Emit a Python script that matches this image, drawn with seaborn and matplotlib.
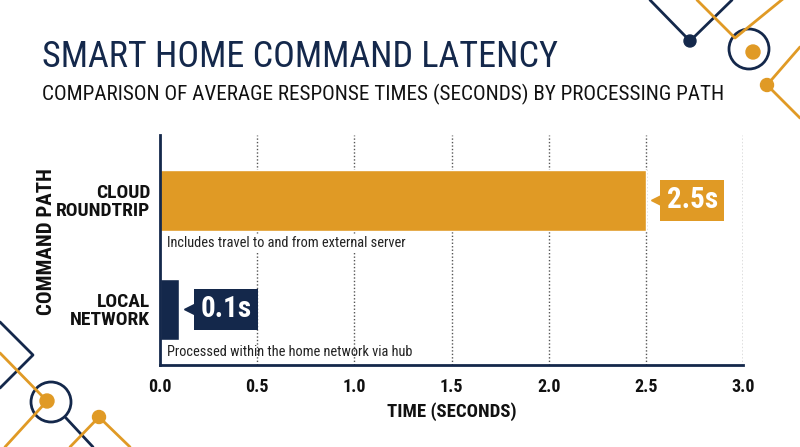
import matplotlib
matplotlib.use("Agg")
import matplotlib.pyplot as plt
import matplotlib.transforms as mtrans
from matplotlib.patches import Circle
import seaborn as sns
import pandas as pd

categories = ["CLOUD\nROUNDTRIP", "LOCAL\nNETWORK"]
latency = [2.5, 0.1]
value_labels = ["2.5s", "0.1s"]
notes = ["Includes travel to and from external server",
         "Processed within the home network via hub"]
xticks = [0.0, 0.5, 1.0, 1.5, 2.0, 2.5, 3.0]

ORANGE = "#E09A25"
NAVY = "#14284B"
FONT = ["Roboto Condensed", "DejaVu Sans"]

sns.set_style("white")
plt.rcParams["font.family"] = FONT

fig = plt.figure(figsize=(8, 4.47), dpi=100)
ax = fig.add_axes([160/800, 1-365/447, 583/800, 230/447])

df = pd.DataFrame({"path": categories, "time": latency})
sns.barplot(data=df, x="time", y="path", hue="path", orient="h",
            palette=[ORANGE, NAVY], width=0.56, legend=False, ax=ax,
            saturation=1, zorder=2)

ax.set_xlim(0, 3.0)
ax.set_ylim(1.51, -0.60)
ax.set_xticks(xticks)
ax.set_xticklabels([f"{t:.1f}" for t in xticks], fontsize=13, fontweight="bold", color="#111")
ax.set_yticks(range(len(categories)))
ax.set_yticklabels(categories, fontsize=14, fontweight="bold", color="#111", linespacing=1.0)
ax.tick_params(axis="both", length=0)
ax.tick_params(axis="y", pad=7)
ax.tick_params(axis="x", pad=9)
for t in xticks[1:]:
    ax.axvline(t, color="#555555", lw=1.0, ls=(0, (1, 1.5)), zorder=1)
for s in ["top", "right"]:
    ax.spines[s].set_visible(False)
for s in ["left", "bottom"]:
    ax.spines[s].set_color(NAVY)
    ax.spines[s].set_linewidth(2)
ax.set_xlabel("TIME (SECONDS)", fontsize=13.5, fontweight="bold", color="#111", labelpad=5)
ax.set_ylabel("COMMAND PATH", fontsize=15, fontweight="bold", color="#111")
ax.yaxis.set_label_coords(-0.178, 0.535)

colors = [ORANGE, NAVY]
for i, (v, lab, note) in enumerate(zip(latency, value_labels, notes)):
    ax.annotate(lab, xy=(v, i), xytext=(21*0.72, 0), textcoords="offset points",
                ha="left", va="center", fontsize=21, fontweight="bold", color="white",
                bbox=dict(boxstyle="square,pad=0.22", fc=colors[i], ec="none"), zorder=5)
    tr = mtrans.offset_copy(ax.transData, fig=fig, x=11, y=0, units="dots")
    ax.plot([v], [i], marker="<", markersize=8, color=colors[i], transform=tr,
            clip_on=False, zorder=5)
    bb = dict(fc="white", ec="none", pad=1) if i == 0 else None
    ax.annotate(note, xy=(0, i + 0.39), xytext=(7*0.72, 0), textcoords="offset points",
                ha="left", va="center", fontsize=10.4, color="#222", bbox=bb, zorder=4)

fig.text(42/800, 1-57/447, "SMART HOME COMMAND LATENCY", fontsize=26, color=NAVY,
         ha="left", va="center")
fig.text(42/800, 1-94/447, "COMPARISON OF AVERAGE RESPONSE TIMES (SECONDS) BY PROCESSING PATH",
         fontsize=15.2, color="#111", ha="left", va="center")

# decorative circuit lines
dec = fig.add_axes([0, 0, 1, 1], zorder=-1)
dec.set_xlim(0, 800)
dec.set_ylim(447, 0)
dec.axis("off")
lw = 2
# top right
dec.plot([650, 690, 732], [0, 41, 0], color=NAVY, lw=lw)
dec.plot([697, 735, 800], [0, 38, -15], color=ORANGE, lw=lw)
dec.add_patch(Circle((749, 49), 20, fill=False, ec=NAVY, lw=lw))
dec.add_patch(Circle((690, 41), 6, color=NAVY))
dec.add_patch(Circle((753, 52), 7, color=ORANGE))
dec.plot([800, 767, 800], [47, 85, 118], color=ORANGE, lw=lw)
dec.add_patch(Circle((767, 85), 6.5, color=ORANGE))
# bottom left
dec.plot([0, 33, 0], [322, 355, 388], color=NAVY, lw=lw)
dec.plot([0, 47, 5], [353, 401, 447], color=ORANGE, lw=lw)
dec.add_patch(Circle((51, 402), 20, fill=False, ec=NAVY, lw=lw))
dec.plot([66, 93], [418, 447], color=NAVY, lw=lw)
dec.add_patch(Circle((47, 401), 7, color=ORANGE))
dec.plot([70, 99, 130], [447, 417, 447], color=ORANGE, lw=lw)
dec.add_patch(Circle((99, 417), 6.5, color=ORANGE))

fig.savefig("out.png", dpi=100)
